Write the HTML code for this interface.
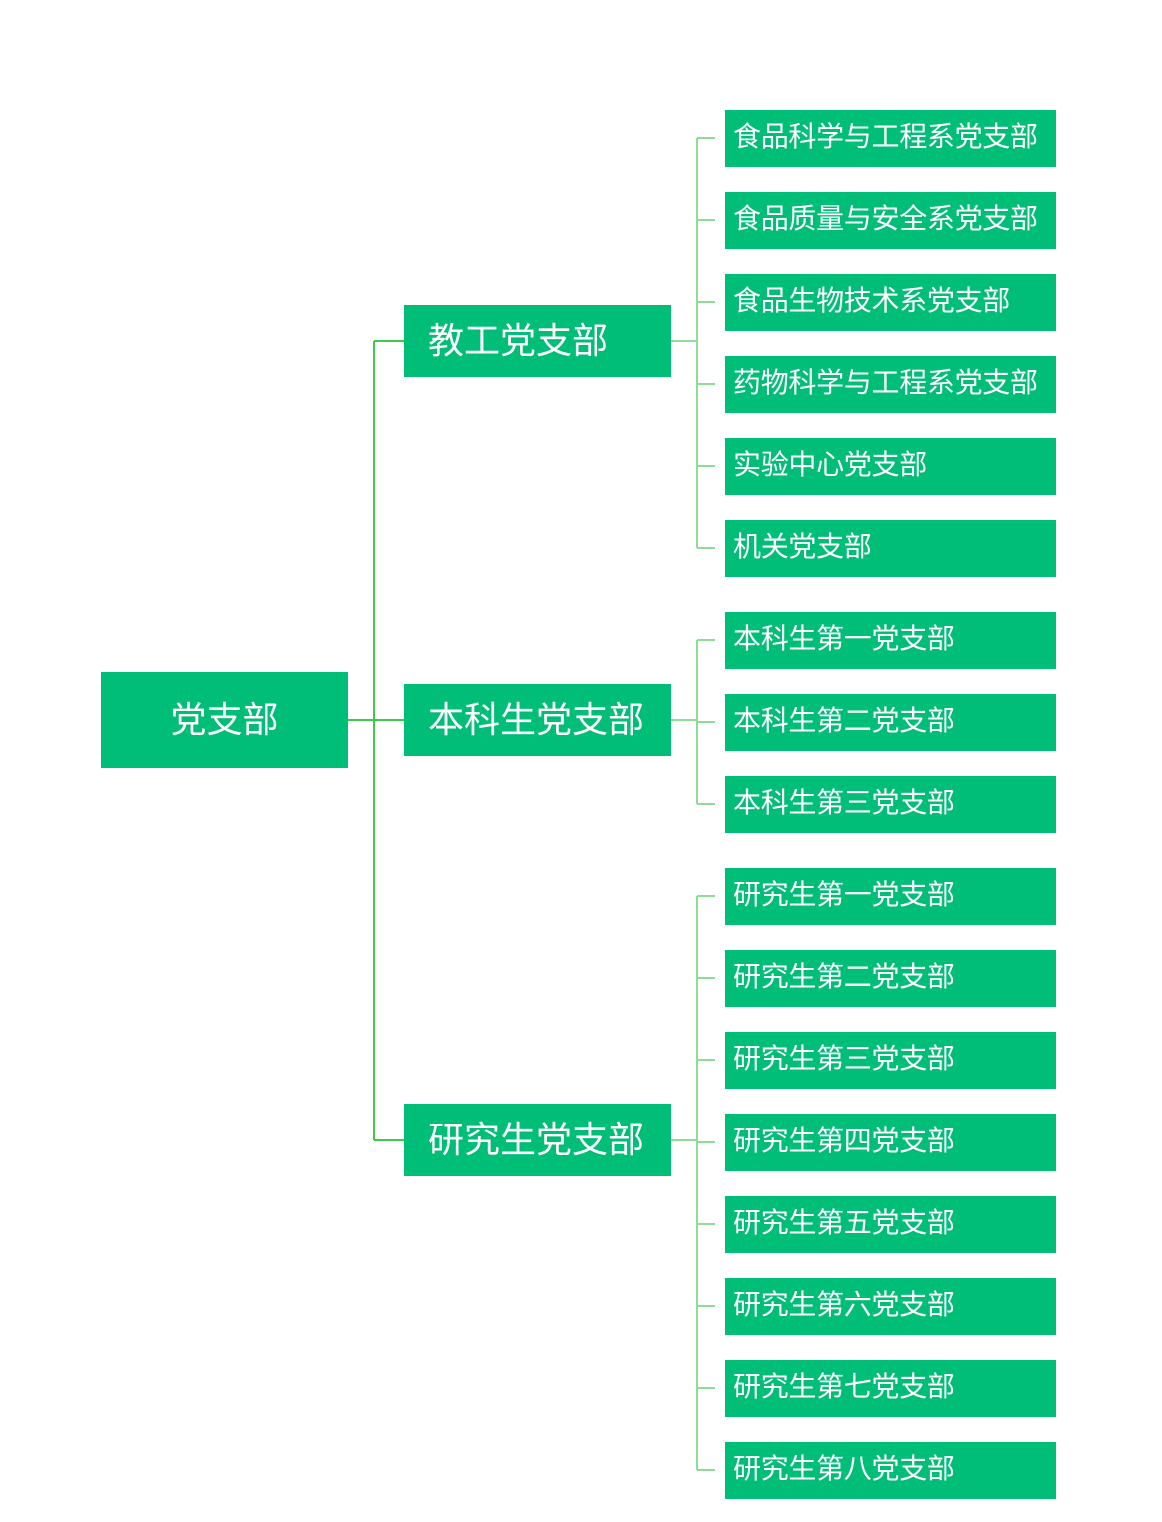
<!DOCTYPE html>
<html><head><meta charset="utf-8"><style>
body{margin:0;width:1162px;height:1522px;background:#fff;position:relative;overflow:hidden;font-family:"Liberation Sans","Noto Sans CJK SC",sans-serif}
.b{position:absolute;background:#00bd78;color:#fff;white-space:nowrap;box-sizing:border-box}
.r{left:101px;top:672px;width:247px;height:96px;font-size:36px;line-height:96px;text-align:center}
.m{left:404px;width:267px;height:72px;font-size:36px;line-height:72px;padding-left:24px}
.l{left:725px;width:331px;height:57px;font-size:28px;line-height:53px;padding-left:8px;letter-spacing:-0.3px}
svg{position:absolute;left:0;top:0}
</style></head><body>
<svg width="1162" height="1522">
<g stroke="#3ec84c" stroke-width="2" fill="none">
<path d="M348 720H404M374 341V1140M374 341H404M374 1140H404"/>
</g>
<g stroke="#8fdc99" stroke-width="2" fill="none">
<path d="M671 341H697M697 138V548"/>
<path d="M671 720H697M697 640V804"/>
<path d="M671 1140H697M697 896V1470"/>
<path d="M697 138H715M697 220H715M697 302H715M697 384H715M697 466H715M697 548H715M697 640H715M697 722H715M697 804H715M697 896H715M697 978H715M697 1060H715M697 1142H715M697 1224H715M697 1306H715M697 1388H715M697 1470H715"/>
</g>
</svg>
<div class="b r">党支部</div>
<div class="b m" style="top:305px">教工党支部</div>
<div class="b m" style="top:684px">本科生党支部</div>
<div class="b m" style="top:1104px">研究生党支部</div>
<div class="b l" style="top:110px">食品科学与工程系党支部</div>
<div class="b l" style="top:192px">食品质量与安全系党支部</div>
<div class="b l" style="top:274px">食品生物技术系党支部</div>
<div class="b l" style="top:356px">药物科学与工程系党支部</div>
<div class="b l" style="top:438px">实验中心党支部</div>
<div class="b l" style="top:520px">机关党支部</div>
<div class="b l" style="top:612px">本科生第一党支部</div>
<div class="b l" style="top:694px">本科生第二党支部</div>
<div class="b l" style="top:776px">本科生第三党支部</div>
<div class="b l" style="top:868px">研究生第一党支部</div>
<div class="b l" style="top:950px">研究生第二党支部</div>
<div class="b l" style="top:1032px">研究生第三党支部</div>
<div class="b l" style="top:1114px">研究生第四党支部</div>
<div class="b l" style="top:1196px">研究生第五党支部</div>
<div class="b l" style="top:1278px">研究生第六党支部</div>
<div class="b l" style="top:1360px">研究生第七党支部</div>
<div class="b l" style="top:1442px">研究生第八党支部</div>
</body></html>
